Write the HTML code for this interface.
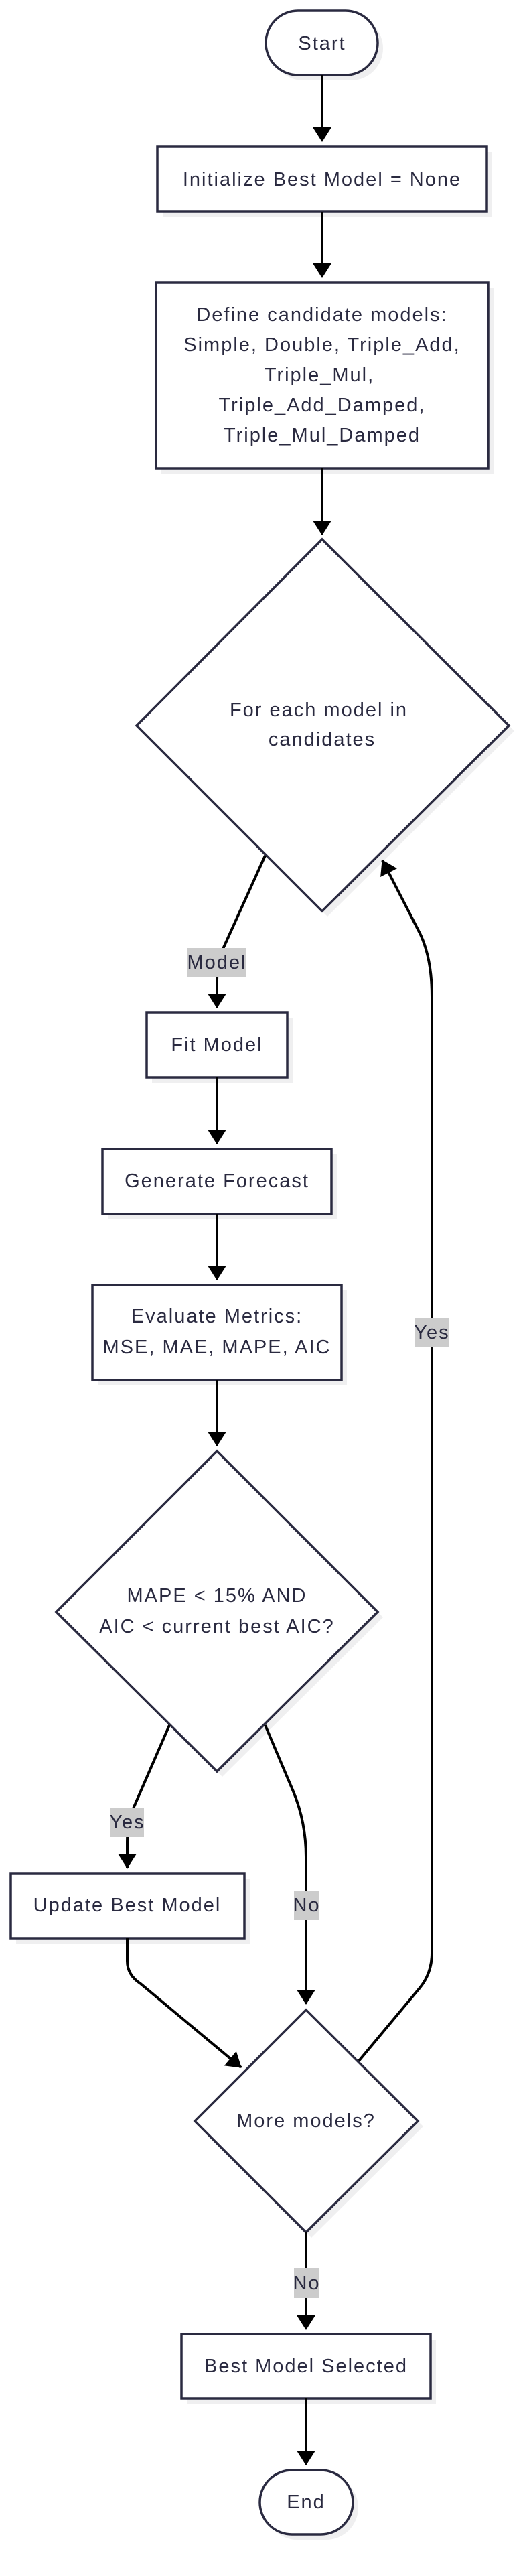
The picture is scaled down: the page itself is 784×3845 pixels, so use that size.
<!DOCTYPE html>
<html><head><meta charset="utf-8"><style>
html,body{margin:0;padding:0;background:#fff;}
svg text{font-family:"Liberation Sans",sans-serif;font-size:29px;letter-spacing:2px;fill:#2a2a40;text-anchor:middle;dominant-baseline:central;}
</style></head><body>
<svg width="784" height="3840" viewBox="0 0 784 3840" xmlns="http://www.w3.org/2000/svg">
<defs>
<marker id="b" markerWidth="22" markerHeight="28" refX="21" refY="14" orient="auto" markerUnits="userSpaceOnUse" viewBox="0 0 22 28">
<path d="M0,0 L22,14 L0,28 z" fill="#000"/></marker>
</defs>
<g fill="#efeff0">
<rect x="405" y="24" width="167" height="96" rx="48"/>
<rect x="243" y="227" width="492" height="97"/>
<rect x="241" y="430" width="496" height="277"/>
<polygon points="489,813 768,1091 489,1368 212,1091"/>
<rect x="227" y="1519" width="210" height="97"/>
<rect x="161" y="1723" width="342" height="97"/>
<rect x="146" y="1926" width="372" height="142"/>
<polygon points="332,2174 572,2414 332,2652 92,2414"/>
<rect x="24" y="2804" width="349" height="97"/>
<polygon points="465,3008 632,3174 465,3340 299,3174"/>
<rect x="279" y="3492" width="372" height="96"/>
<rect x="396" y="3695" width="139" height="96" rx="48"/>
</g>
<g fill="#fff" stroke="#2a2a40" stroke-width="3.5">
<rect x="397" y="16" width="167" height="96" rx="48"/>
<rect x="235" y="219" width="492" height="97"/>
<rect x="233" y="422" width="496" height="277"/>
<polygon points="481,805 760,1083 481,1360 204,1083"/>
<rect x="219" y="1511" width="210" height="97"/>
<rect x="153" y="1715" width="342" height="97"/>
<rect x="138" y="1918" width="372" height="142"/>
<polygon points="324,2166 564,2406 324,2644 84,2406"/>
<rect x="16" y="2796" width="349" height="97"/>
<polygon points="457,3000 624,3166 457,3332 291,3166"/>
<rect x="271" y="3484" width="372" height="96"/>
<rect x="388" y="3687" width="139" height="96" rx="48"/>
</g>
<g stroke="#000" stroke-width="4" fill="none" marker-end="url(#b)">
<path d="M481,112 L481,211"/>
<path d="M481,316 L481,414"/>
<path d="M481,699 L481,798"/>
<path d="M396,1277 L334,1414 Q324,1440 324,1463 L324,1504"/>
<path d="M324,1608 L324,1707"/>
<path d="M324,1812 L324,1910"/>
<path d="M324,2060 L324,2158"/>
<path d="M253,2575 L200,2697 Q190,2722 190,2749 L190,2788"/>
<path d="M396,2575 L438,2674 Q457,2720 457,2772 L457,2991"/>
<path d="M190,2893 L190,2927 Q190,2948 210,2961 L360,3086"/>
<path d="M536,3076 L627,2967 Q645,2945 645,2915 L645,1488 Q645,1430 627,1393 L571,1284"/>
<path d="M457,3332 L457,3477"/>
<path d="M457,3580 L457,3679"/>
</g>
<g fill="#cccccc">
<rect x="280" y="1415" width="87" height="44"/>
<rect x="620" y="1967" width="50" height="44"/>
<rect x="165" y="2698" width="50" height="44"/>
<rect x="439" y="2822" width="38" height="44"/>
<rect x="439" y="3386" width="38" height="44"/>
</g>
<text x="481" y="65">Start</text>
<text x="481" y="268">Initialize Best Model = None</text>
<text x="481" y="470">Define candidate models:</text>
<text x="481" y="515">Simple, Double, Triple_Add,</text>
<text x="477" y="560">Triple_Mul,</text>
<text x="481" y="605">Triple_Add_Damped,</text>
<text x="481" y="650">Triple_Mul_Damped</text>
<text x="476" y="1060">For each model in</text>
<text x="481" y="1104">candidates</text>
<text x="324" y="1437">Model</text>
<text x="324" y="1560">Fit Model</text>
<text x="324" y="1763">Generate Forecast</text>
<text x="324" y="1965">Evaluate Metrics:</text>
<text x="324" y="2011">MSE, MAE, MAPE, AIC</text>
<text x="645" y="1989">Yes</text>
<text x="324" y="2382">MAPE &lt; 15% AND</text>
<text x="324" y="2428">AIC &lt; current best AIC?</text>
<text x="190" y="2720">Yes</text>
<text x="190" y="2844">Update Best Model</text>
<text x="458" y="2844">No</text>
<text x="457" y="3166">More models?</text>
<text x="458" y="3408">No</text>
<text x="457" y="3532">Best Model Selected</text>
<text x="457" y="3735">End</text>
</svg>
</body></html>
